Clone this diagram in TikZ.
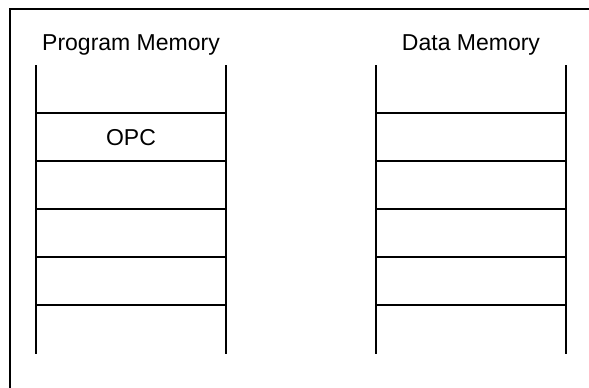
\documentclass[tikz,border=0pt]{standalone}
\usepackage{fontspec}
\setmainfont{Liberation Sans}
\begin{document}
\begin{tikzpicture}[x=1pt, y=-1pt,
    label/.style ={anchor=base, inner sep=0pt, font=\fontsize{23}{27}\selectfont},
    frame/.style ={line width=2.4pt},
    wall/.style ={line width=1.8pt},
    rung/.style ={line width=2pt}]
   \useasboundingbox (0,0) rectangle (589,388);

   % outer frame (open to the right and bottom)
   \coordinate (F1) at (10,388);
   \coordinate (F2) at (10,9);
   \coordinate (F3) at (589,9);
   \draw[frame] (F1) -- (F2) -- (F3);

   \node[label] (prog) at (131,50)  {Program Memory};
   \node[label] (data) at (471,50)  {Data Memory};
   \node[label] (opc)  at (131,145) {OPC};

   % program memory
   \coordinate (PA) at (36,65);
   \coordinate (PB) at (36,354);
   \coordinate (PC) at (226,65);
   \coordinate (PD) at (226,354);
   \draw[wall] (PA) to (PB);
   \draw[wall] (PC) to (PD);

   % data memory
   \coordinate (DA) at (376,65);
   \coordinate (DB) at (376,354);
   \coordinate (DC) at (566,65);
   \coordinate (DD) at (566,354);
   \draw[wall] (DA) to (DB);
   \draw[wall] (DC) to (DD);

   \foreach \y in {113,161,209,257,305} {
     \draw[rung] (36,\y) -- (226,\y);
     \draw[rung] (376,\y) -- (566,\y);
   }

 \end{tikzpicture}
\end{document}
